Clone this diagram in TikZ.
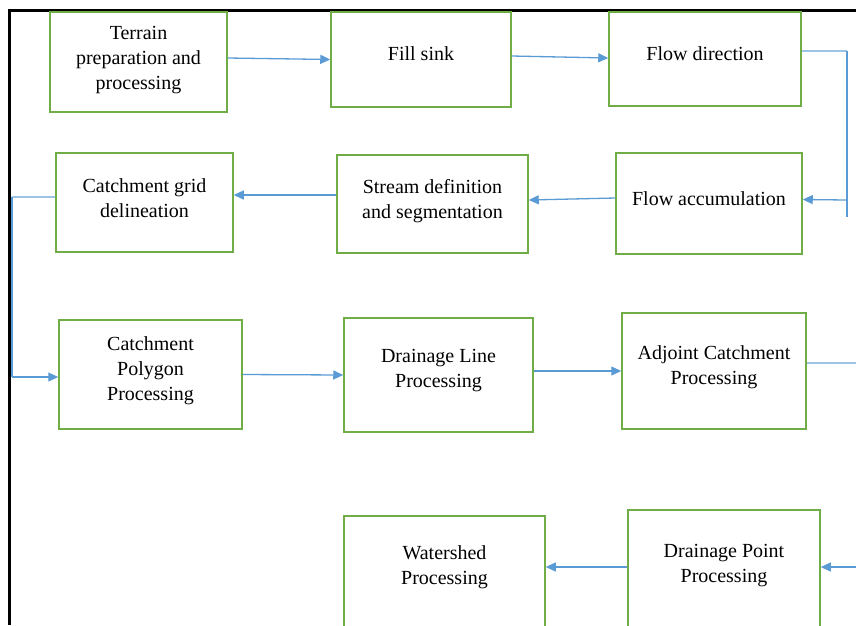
\documentclass[tikz,border=0pt]{standalone}
\usepackage{fontspec}
\setmainfont{Liberation Serif}
\usepackage{tikz}
\usetikzlibrary{arrows.meta}

\definecolor{boxgreen}{RGB}{112,173,71}
\definecolor{linkblue}{RGB}{91,155,213}
\definecolor{stubblue}{RGB}{157,195,230}

\begin{document}
\begin{tikzpicture}[
      x=1pt, y=-1pt,
      font=\rmfamily\fontsize{20}{25}\selectfont,
      box/.style={draw=boxgreen, line width=1.5pt, rectangle, inner sep=0pt},
      txt/.style={align=center, yshift=4pt},
      arr/.style={draw=linkblue, line width=1.3pt, -{Triangle[length=10pt, width=9pt]}},
      stub/.style={draw=stubblue, line width=1.3pt},
      rail/.style={draw=linkblue, line width=1.2pt}
    ]
      \useasboundingbox (0,0) rectangle (856,625);
      \clip (0,0) rectangle (856,625);

      % Frame
      \draw[line width=2.5pt] (9.5,625) -- (9.5,10.5) -- (856,10.5);

      % First row
      \node[box, minimum width=177, minimum height=100, label={[txt, yshift=-2pt]center:Terrain\\preparation and\\processing}] (terrain) at (138.5,62) {};
      \node[box, minimum width=180, minimum height=95, label={[txt, yshift=2pt]center:Fill sink}] (fillsink) at (421,59.5) {};
      \node[box, minimum width=192, minimum height=94, label={[txt, yshift=1pt]center:Flow direction}] (flowdir) at (705,59) {};

      % Second row
      \node[box, minimum width=177, minimum height=99, label={[txt]center:Catchment grid\\delineation}] (grid) at (144.5,202.5) {};
      \node[box, minimum width=191, minimum height=98, label={[txt, yshift=-1pt]center:Stream definition\\and segmentation}] (stream) at (432.5,204) {};
      \node[box, minimum width=186, minimum height=101, label={[txt, yshift=1pt]center:Flow accumulation}] (flowacc) at (709,203.5) {};

      % Third row
      \node[box, minimum width=183, minimum height=109, label={[txt]center:Catchment\\Polygon\\Processing}] (polygon) at (150.5,374.5) {};
      \node[box, minimum width=189, minimum height=114, label={[txt]center:Drainage Line\\Processing}] (drainline) at (438.5,375) {};
      \node[box, minimum width=184, minimum height=116, label={[txt]center:Adjoint Catchment\\Processing}] (adjoint) at (714,371) {};

      % Fourth row
      \node[box, minimum width=201, minimum height=116, label={[txt, yshift=3pt]center:Watershed\\Processing}] (watershed) at (444.5,574) {};
      \node[box, minimum width=192, minimum height=120, label={[txt]center:Drainage Point\\Processing}] (drainpt) at (724,570) {};

      % Turning points
      \coordinate (r1top) at (847,51);
      \coordinate (r1arr) at (847,200);
      \coordinate (r1bot) at (847,217);
      \coordinate (l1top) at (12,197);
      \coordinate (l1bot) at (12,377);
      \coordinate (r2top) at (860,363);
      \coordinate (r2bot) at (860,567);

      % Links
      \draw[arr] ([yshift=4pt]terrain.east) -- (fillsink.west);
      \draw[arr] ([yshift=3.5pt]fillsink.east) -- ([yshift=1pt]flowdir.west);
      \draw[stub] ([yshift=8pt]flowdir.east) -- (r1top);
      \draw[rail] (r1top) -- (r1bot);
      \draw[arr] (r1arr) -- ([yshift=4pt]flowacc.east);
      \draw[arr] ([yshift=5.5pt]flowacc.west) -- ([yshift=4pt]stream.east);
      \draw[arr] ([yshift=9pt]stream.west) -- ([yshift=7.5pt]grid.east);
      \draw[stub] ([yshift=5.5pt]grid.west) -- (l1top);
      \draw[rail] (l1top) -- (l1bot);
      \draw[arr] (l1bot) -- ([yshift=-2.5pt]polygon.west);
      \draw[arr] (polygon.east) -- (drainline.west);
      \draw[arr] ([yshift=4pt]drainline.east) -- (adjoint.west);
      \draw[stub] ([yshift=8pt]adjoint.east) -- (r2top);
      \draw[rail] (r2top) -- (r2bot);
      \draw[arr] (r2bot) -- ([yshift=3pt]drainpt.east);
      \draw[arr] ([yshift=3pt]drainpt.west) -- ([yshift=7pt]watershed.east);
    \end{tikzpicture}
\end{document}
